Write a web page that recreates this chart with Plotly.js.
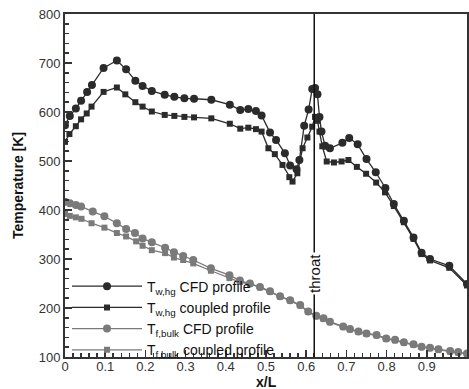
<!DOCTYPE html>
<html>
<head>
<meta charset="utf-8">
<script src="https://cdn.plot.ly/plotly-3.0.1.min.js"></script>
<style>html,body{margin:0;padding:0;background:#fff;}#chart{width:469px;height:389px;}</style>
</head>
<body>
<div id="chart"></div>
<script>
// Wall temperature, hot-gas side — CFD profile
const twCfdX = [0, 0.012, 0.027, 0.040, 0.055, 0.067, 0.096, 0.129, 0.152, 0.175, 0.193, 0.216, 0.248, 0.272, 0.297, 0.321, 0.364, 0.410, 0.436, 0.456, 0.475, 0.489, 0.510, 0.525, 0.547, 0.560, 0.576, 0.583, 0.595, 0.606, 0.615, 0.622, 0.628, 0.633, 0.638, 0.647, 0.659, 0.690, 0.707, 0.728, 0.750, 0.773, 0.797, 0.818, 0.843, 0.867, 0.887, 0.908, 0.956, 1.0];
const twCfdY = [573, 592, 607, 623, 641, 655, 690, 705, 687, 664, 653, 643, 635, 631, 628, 627, 625, 615, 604, 606, 602, 593, 558, 543, 516, 491, 483, 502, 572, 605, 647, 649, 636, 590, 560, 531, 526, 537, 547, 534, 504, 477, 445, 412, 378, 344, 313, 300, 286, 249];
// Wall temperature, hot-gas side — coupled profile
const twCplX = [0, 0.011, 0.027, 0.040, 0.054, 0.066, 0.096, 0.129, 0.150, 0.175, 0.193, 0.216, 0.248, 0.272, 0.297, 0.321, 0.364, 0.410, 0.436, 0.456, 0.475, 0.489, 0.506, 0.522, 0.541, 0.558, 0.566, 0.578, 0.591, 0.603, 0.615, 0.622, 0.628, 0.633, 0.640, 0.651, 0.669, 0.688, 0.705, 0.726, 0.749, 0.774, 0.796, 0.818, 0.843, 0.867, 0.887, 0.908, 0.956, 1.0];
const twCplY = [539, 555, 571, 585, 597, 611, 641, 650, 636, 620, 611, 601, 594, 592, 590, 589, 587, 576, 566, 568, 565, 560, 526, 514, 492, 467, 458, 475, 526, 548, 570, 590, 582, 560, 530, 499, 497, 499, 502, 488, 474, 456, 436, 408, 375, 341, 310, 297, 282, 246];
// Bulk fluid temperature — CFD profile
const tfCfdX = [0, 0.012, 0.027, 0.040, 0.069, 0.098, 0.129, 0.152, 0.174, 0.193, 0.216, 0.249, 0.271, 0.294, 0.319, 0.363, 0.409, 0.435, 0.460, 0.485, 0.510, 0.535, 0.560, 0.585, 0.605, 0.625, 0.643, 0.659, 0.692, 0.709, 0.730, 0.750, 0.775, 0.799, 0.821, 0.843, 0.867, 0.887, 0.908, 0.929, 0.958, 0.978, 1.0];
const tfCfdY = [417, 414, 410, 407, 397, 387, 373, 361, 353, 342, 334, 323, 314, 306, 298, 281, 267, 256, 250, 243, 234, 224, 216, 206, 193, 184, 179, 172, 162, 157, 152, 148, 145, 138, 135, 130, 126, 121, 119, 116, 112, 110, 107];
// Bulk fluid temperature — coupled profile
const tfCplX = [0, 0.012, 0.027, 0.041, 0.066, 0.098, 0.129, 0.152, 0.177, 0.193, 0.216, 0.249, 0.271, 0.294, 0.319, 0.363, 0.409, 0.435, 0.460, 0.485, 0.510, 0.535, 0.560, 0.585, 0.605, 0.625, 0.643, 0.659, 0.692, 0.709, 0.730, 0.750, 0.775, 0.799, 0.821, 0.843, 0.867, 0.887, 0.908, 0.929, 0.958, 0.978, 1.0];
const tfCplY = [392, 388, 385, 382, 373, 364, 353, 346, 336, 327, 318, 312, 303, 298, 291, 276, 261, 253, 249, 242, 233, 223, 215, 205, 192, 183, 178, 171, 161, 156, 151, 147, 144, 137, 134, 129, 125, 120, 118, 115, 111, 109, 106];

const seriesNames = ["T<sub>w,hg</sub> CFD profile", "T<sub>w,hg</sub> coupled profile", "T<sub>f,bulk</sub> CFD profile", "T<sub>f,bulk</sub> coupled profile"];
const throatX = 0.62;
const throatLabel = "throat";
const xTitle = "x/L";
const yTitle = "Temperature [K]";

const dark = "#2b2b2b", gray = "#7a7a7a";
const fam = "Liberation Sans, Arial, sans-serif";
function tr(x, y, name, color, symbol, size) {
  return {x: x, y: y, name: name, type: "scatter", mode: "lines+markers",
    line: {color: color, width: 1.3}, marker: {color: color, symbol: symbol, size: size}};
}
const data = [
  tr(twCfdX, twCfdY, seriesNames[0], dark, "circle", 8),
  tr(twCplX, twCplY, seriesNames[1], dark, "square", 6),
  tr(tfCfdX, tfCfdY, seriesNames[2], gray, "circle", 8),
  tr(tfCplX, tfCplY, seriesNames[3], gray, "square", 6)
];
const axisCommon = {showgrid: false, zeroline: false, showline: true, linecolor: "#333", linewidth: 2, mirror: true,
  ticks: "inside", ticklen: 7, tickwidth: 1.5, tickcolor: "#333",
  tickfont: {family: fam, size: 13, color: "#333"}, automargin: false};
const layout = {
  width: 469, height: 389,
  margin: {l: 65, r: 2, t: 14, b: 32},
  paper_bgcolor: "#fff", plot_bgcolor: "#fff",
  showlegend: true,
  legend: {x: 0.005, y: -0.025, xanchor: "left", yanchor: "bottom", bgcolor: "rgba(0,0,0,0)",
    font: {family: fam, size: 14, color: "#111"}, tracegroupgap: 0, itemwidth: 70},
  xaxis: Object.assign({}, axisCommon, {range: [0, 1], dtick: 0.1, tick0: 0, ticklabelstandoff: -4,
    minor: {dtick: 0.02, ticks: "inside", ticklen: 4, tickcolor: "#333"}}),
  yaxis: Object.assign({}, axisCommon, {range: [100, 800], dtick: 100,
    minor: {dtick: 20, ticks: "inside", ticklen: 4, tickcolor: "#333"},
    title: {text: "<b>" + yTitle + "</b>", standoff: 12, font: {family: fam, size: 14, color: "#111"}}}),
  shapes: [{type: "line", xref: "x", yref: "paper", x0: throatX, x1: throatX, y0: 0, y1: 1,
    line: {color: "#111", width: 1.5}, layer: "above"}],
  annotations: [
    {x: throatX, y: 270, xref: "x", yref: "y", text: throatLabel, showarrow: false,
      textangle: -90, bgcolor: "#fff", font: {family: fam, size: 15, color: "#111"}},
    {x: 0.5, y: 0, xref: "paper", yref: "paper", xanchor: "center", yanchor: "bottom", yshift: -34, borderpad: 0,
      text: "<b>" + xTitle + "</b>", showarrow: false, font: {family: fam, size: 14, color: "#111"}}
  ]
};
Plotly.newPlot("chart", data, layout, {displayModeBar: false, staticPlot: true});
</script>
</body>
</html>
